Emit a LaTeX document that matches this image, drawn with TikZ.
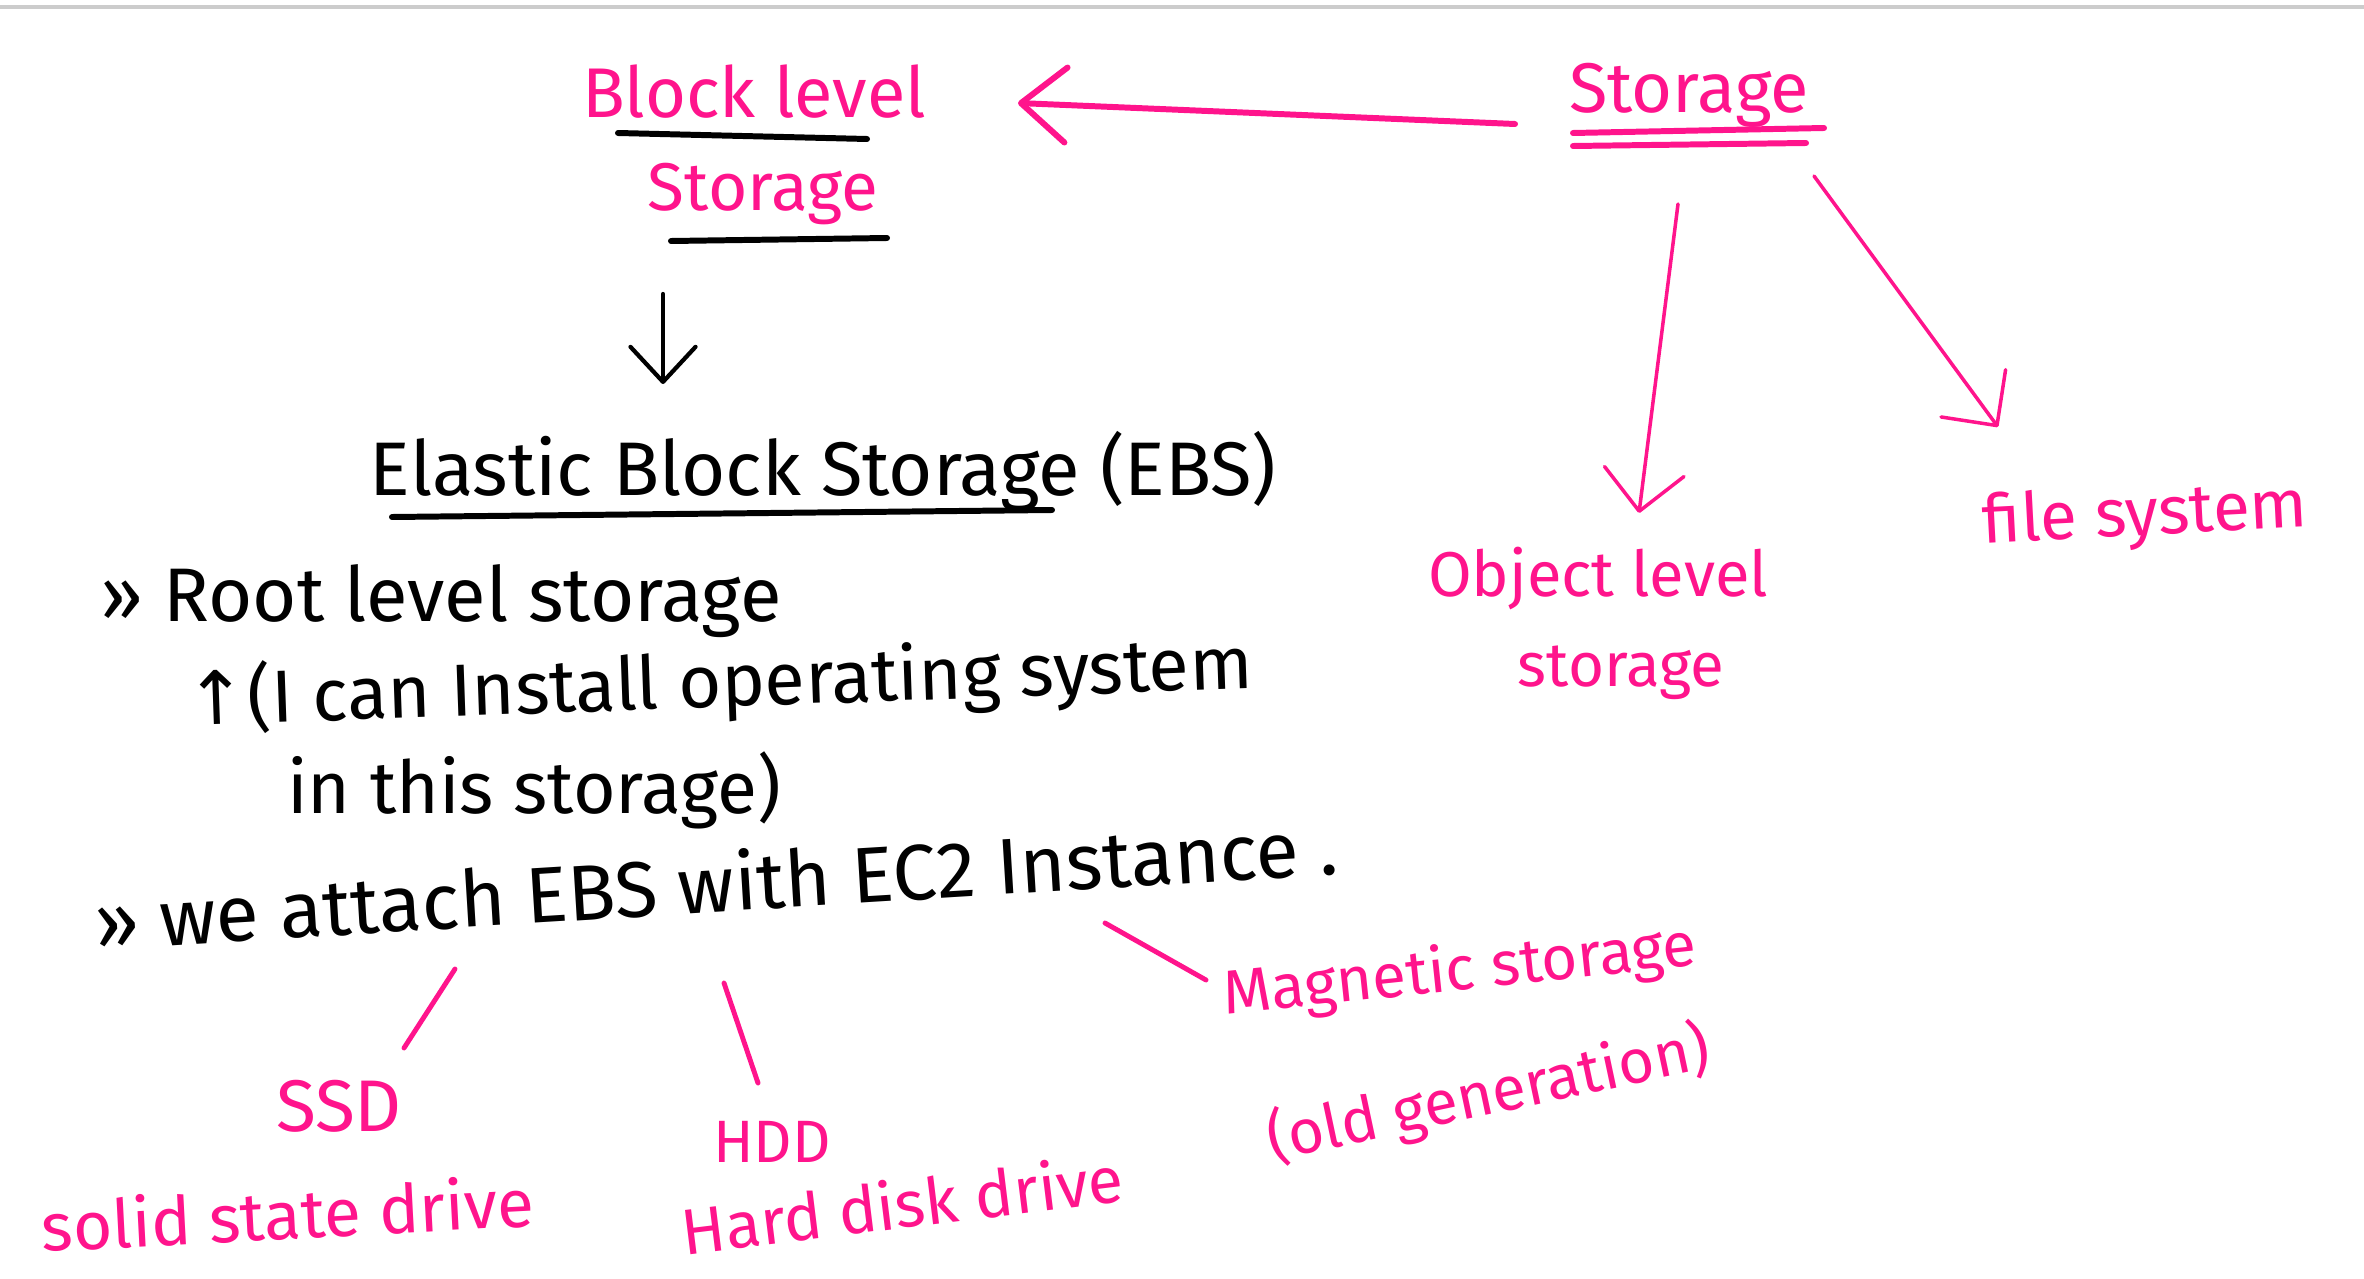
\documentclass[tikz,border=0pt]{standalone}
\usepackage{fontspec}
\setmainfont{Fira Sans}
\newfontfamily\arrowfont{DejaVu Sans}
\usetikzlibrary{arrows.meta}

\definecolor{marker}{RGB}{255,20,140}
\definecolor{rulegray}{RGB}{204,204,204}
\newcommand{\handsize}[1]{\fontsize{#1}{#1}\selectfont}

\begin{document}
\begin{tikzpicture}[
    x=0.01cm, y=-0.01cm,
    pinknote/.style={
        text=marker,
        inner sep=0pt,
        anchor=base
    },
    inknote/.style={
        text=black,
        inner sep=0pt,
        anchor=base
    },
    pinkarrow/.style={
        -{Straight Barb[length=4mm,width=8mm,round]},
        draw=marker,
        line width=1pt,
        line cap=round
    },
    pinkline/.style={
        draw=marker,
        line width=1.4pt,
        line cap=round
    },
    inkline/.style={
        draw=black,
        line width=1.7pt,
        line cap=round
    }
]
\useasboundingbox (0,0) rectangle (2364,1279);
\draw[draw=rulegray, line width=0.9pt] (0,7) -- (2364,7);

% block level side
\node[pinknote, font={\handsize{20}}] (blocklevel) at (754,118) {Block level};
\node[pinknote, font={\handsize{19.2}}] (bstore) at (763,211) {Storage};
\draw[inkline] (618,133) -- (867,139);
\draw[inkline] (671,241) -- (887,238);

% storage types
\node[pinknote, font={\handsize{20}}] (storage) at (1689,113) {Storage};
\draw[inkline, draw=marker] (1573,133) -- (1824,128);
\draw[inkline, draw=marker] (1573,146) -- (1806,143);
\node[pinknote, font={\handsize{18}}] (objlevel) at (1598,596) {Object level};
\node[pinknote, font={\handsize{17.6}}] (objstore) at (1621,686) {storage};
\node[pinknote, font={\handsize{19.2}}, rotate=3] (filesys) at (2146,535) {file system};

\draw[pinkarrow, line width=1.7pt, -{Straight Barb[length=4.5mm,width=7.5mm,round]}]
    ([shift={(-174,11)}]storage.base) -- ([shift={(264,-15)}]blocklevel.base);
\draw[pinkarrow] ([shift={(-11,91)}]storage.base) -- ([shift={(41,-83)}]objlevel.base);
\draw[pinkarrow] ([shift={(125,63)}]storage.base) -- ([shift={(-148,-108)}]filesys.base);

% EBS notes
\node[inknote, font={\handsize{21.6}}] (ebs) at (823,495) {Elastic Block Storage (EBS)};
\draw[inkline] (392,517) -- (1052,510);
\draw[-{Straight Barb[length=3.5mm,width=6.5mm,round]}, line width=1.2pt, line cap=round]
    ([shift={(-100,83)}]bstore.base) -- ([shift={(-160,-111)}]ebs.base);

\node[inknote, font={\handsize{21.6}}] (root) at (441,621) {>> Root level storage};
\node[inknote, font={\handsize{21}}, rotate=2] (install) at (720,707) {{\arrowfont ↑}(I can Install operating system};
\node[inknote, font={\handsize{20.8}}] (inthis) at (534,813) {in this storage)};
\node[inknote, font={\handsize{22.4}}, rotate=3.5] (attach) at (718,912) {>> we attach EBS with EC2 Instance .};

% volume kinds
\node[pinknote, font={\handsize{20.8}}] (ssd) at (339,1131) {SSD};
\node[pinknote, font={\handsize{19.2}}, rotate=3] (ssdlong) at (289,1239) {solid state drive};
\node[pinknote, font={\handsize{17}}] (hdd) at (772,1162) {HDD};
\node[pinknote, font={\handsize{18.4}}, rotate=7] (hddlong) at (905,1228) {Hard disk drive};
\node[pinknote, font={\handsize{17.6}}, rotate=6] (magnetic) at (1462,990) {Magnetic storage};
\node[pinknote, font={\handsize{17.6}}, rotate=12] (oldgen) at (1493,1114) {(old generation)};

\draw[pinkline] ([shift={(-263,57)}]attach.base) -- ([shift={(65,-83)}]ssd.base);
\draw[pinkline] ([shift={(6,71)}]attach.base) -- ([shift={(-14,-79)}]hdd.base);
\draw[pinkline] ([shift={(387,11)}]attach.base) -- ([shift={(-256,-10)}]magnetic.base);

\end{tikzpicture}
\end{document}
